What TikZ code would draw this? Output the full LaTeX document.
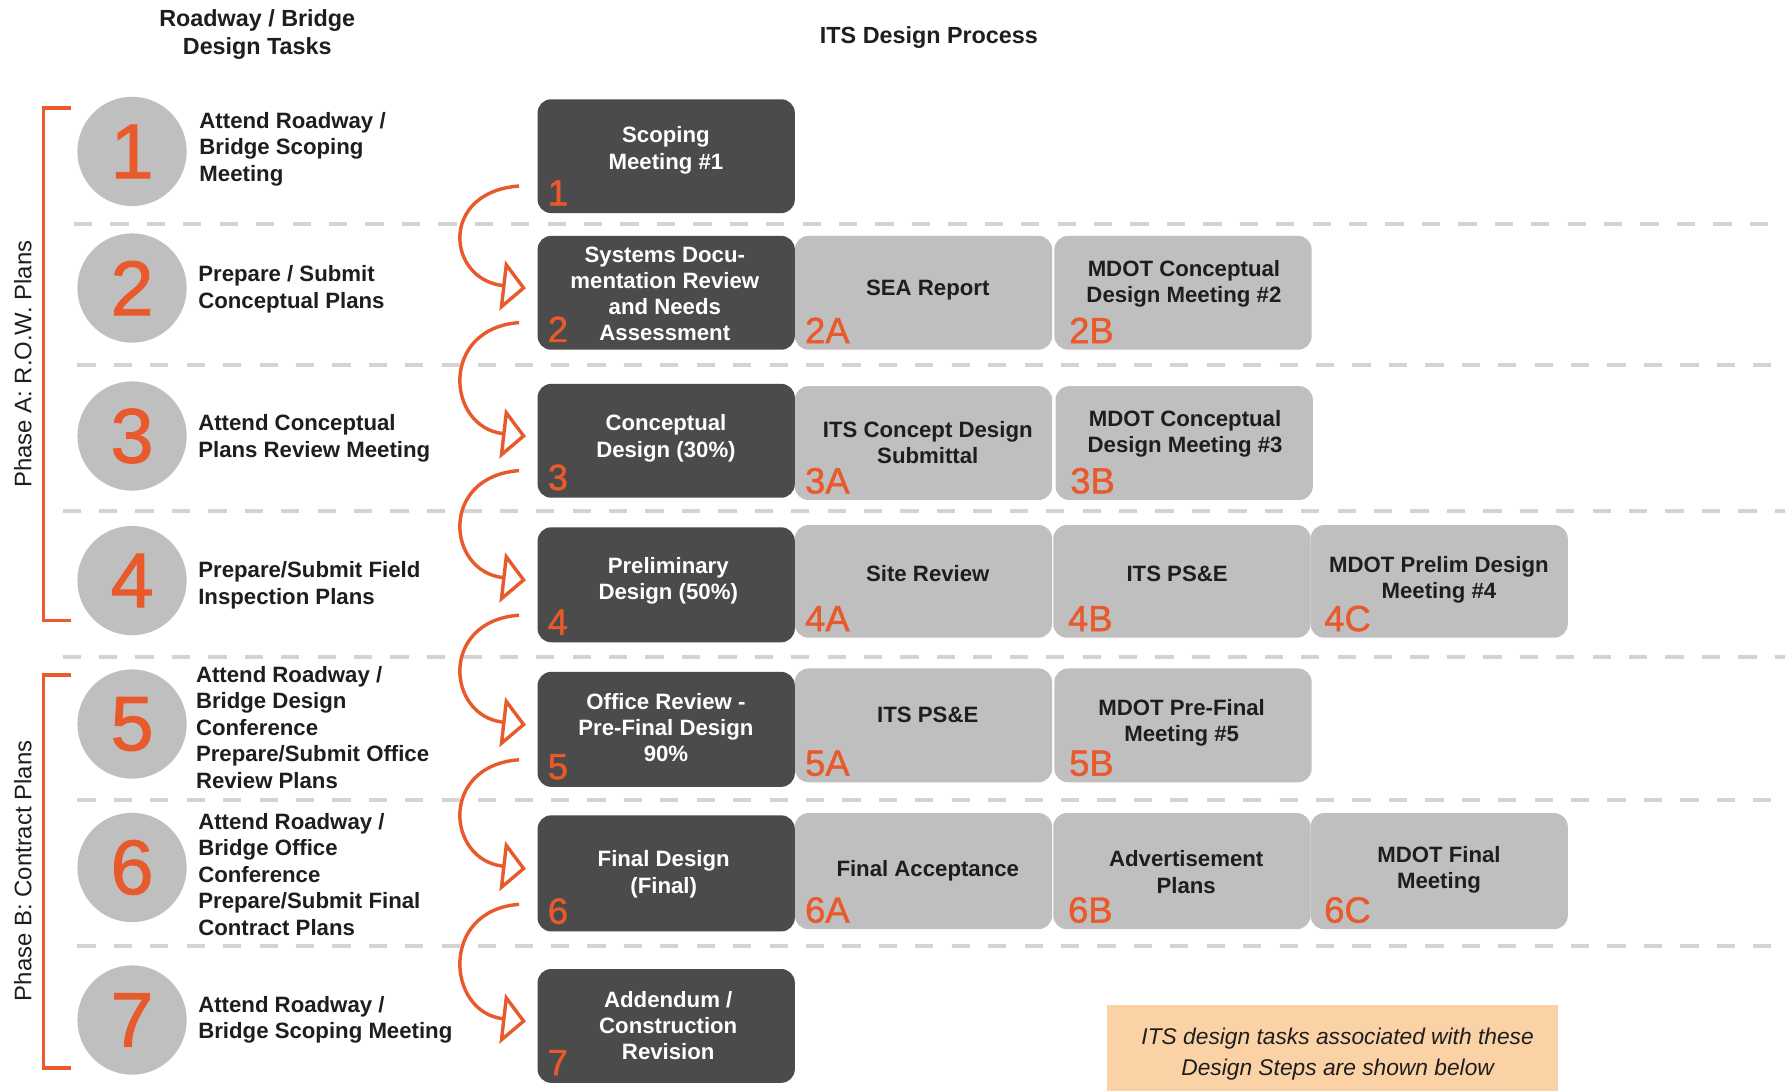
\documentclass[tikz,border=0pt]{standalone}
\usepackage{fontspec}
\setmainfont{Liberation Sans}
\newfontfamily\numfont[FakeBold=1.2]{Liberation Sans}
\usetikzlibrary{arrows.meta,calc}
\definecolor{org}{HTML}{E8592B}
\definecolor{dk}{HTML}{4B4B4B}
\definecolor{lt}{HTML}{BFBFBF}
\definecolor{dashc}{HTML}{D4D4D4}
\definecolor{peach}{HTML}{FBD1A6}
\definecolor{txt}{HTML}{1E1E1E}
\begin{document}
\begin{tikzpicture}[x=1pt,y=-1pt,
  dbox/.style={fill=dk, rounded corners=12pt, minimum width=226pt, minimum height=100pt, inner sep=0pt, anchor=north west},
  lbox/.style={fill=lt, rounded corners=12pt, minimum width=226pt, minimum height=100pt, inner sep=0pt, anchor=north west},
  dtext/.style={text=white, align=center, font=\fontsize{19.5}{23}\selectfont\bfseries, inner sep=0pt},
  ltext/.style={text=txt, align=center, font=\fontsize{19.5}{23}\selectfont\bfseries, inner sep=0pt},
  tasktext/.style={text=txt, align=left, anchor=west, font=\fontsize{19.5}{23.2}\selectfont\bfseries, inner sep=0pt},
  idx/.style={text=org, anchor=base west, font=\fontsize{32}{32}\numfont, inner sep=0pt},
  circ/.style={circle, fill=lt, minimum size=96pt, inner sep=0pt, text=org, font=\fontsize{68}{68}\numfont},
  dline/.style={draw=dashc, line width=3.5pt, dash pattern=on 16pt off 16pt},
  flow/.style={draw=org, line width=3pt, -{Triangle[open, length=21pt, width=44pt, line width=3pt]}},
  bracket/.style={draw=org, line width=3pt},
  phase/.style={rotate=90, text=txt, font=\fontsize{21}{24}\selectfont, inner sep=0pt}
]
\fill[white] (0,0) rectangle (1568,958);
\useasboundingbox (0,0) rectangle (1568,958);

% separators
\draw[dline] (65,197) -- (1568,197);
\draw[dline] (68,321) -- (1568,321);
\draw[dline] (55,449) -- (1568,449);
\draw[dline] (55,577) -- (1568,577);
\draw[dline] (68,703) -- (1568,703);
\draw[dline] (68,831) -- (1568,831);

% headers
\node[ltext, font=\fontsize{20.5}{25}\selectfont\bfseries] (h1) at (226,30.5) {Roadway / Bridge\\Design Tasks};
\node[ltext, font=\fontsize{20.5}{25}\selectfont\bfseries] (h2) at (816,33) {ITS Design Process};

% brackets and phase labels
\draw[bracket] (62,95) -- (38,95) -- (38,545) -- (62,545);
\draw[bracket] (62,593) -- (38,593) -- (38,938) -- (62,938);
\node[phase] (pa) at (20,320) {Phase A: R.O.W. Plans};
\node[phase] (pb) at (20,765) {Phase B: Contract Plans};

% circles
\node[circ] (c1) at (116,133) {1};
\node[circ] (c2) at (116,253) {2};
\node[circ] (c3) at (116,383) {3};
\node[circ] (c4) at (116,510) {4};
\node[circ] (c5) at (116,636) {5};
\node[circ] (c6) at (116,762) {6};
\node[circ] (c7) at (116,896) {7};

% task texts
\node[tasktext] (k1) at (175,131) {Attend Roadway /\\Bridge Scoping\\Meeting};
\node[tasktext] (k2) at (174,254) {Prepare / Submit\\Conceptual Plans};
\node[tasktext] (k3) at (174,385) {Attend Conceptual\\Plans Review Meeting};
\node[tasktext] (k4) at (174,514) {Prepare/Submit Field\\Inspection Plans};
\node[tasktext] (k5) at (172,639) {Attend Roadway /\\Bridge Design\\Conference\\Prepare/Submit Office\\Review Plans};
\node[tasktext] (k6) at (174,768) {Attend Roadway /\\Bridge Office\\Conference\\Prepare/Submit Final\\Contract Plans};
\node[tasktext] (k7) at (174,896) {Attend Roadway /\\Bridge Scoping Meeting};

% light boxes
\node[lbox] (b2a) at (698,207) {};
\node[lbox] (b2b) at (926,207) {};
\node[lbox] (b3a) at (698,339) {};
\node[lbox] (b3b) at (927,339) {};
\node[lbox, minimum height=99pt] (b4a) at (698,461) {};
\node[lbox, minimum height=99pt] (b4b) at (925,461) {};
\node[lbox, minimum height=99pt] (b4c) at (1151,461) {};
\node[lbox] (b5a) at (698,587) {};
\node[lbox] (b5b) at (926,587) {};
\node[lbox, minimum height=102pt] (b6a) at (698,714) {};
\node[lbox, minimum height=102pt] (b6b) at (925,714) {};
\node[lbox, minimum height=102pt] (b6c) at (1151,714) {};

% dark boxes
\node[dbox] (d1) at (472,87) {};
\node[dbox] (d2) at (472,207) {};
\node[dbox] (d3) at (472,337) {};
\node[dbox, minimum height=101pt] (d4) at (472,463) {};
\node[dbox, minimum height=101pt] (d5) at (472,590) {};
\node[dbox, minimum height=102pt] (d6) at (472,716) {};
\node[dbox] (d7) at (472,851) {};

% dark texts
\node[dtext] (t1) at (585,132) {Scoping\\Meeting \#1};
\node[dtext] (t2) at (584,258) {Systems Docu-\\mentation Review\\and Needs\\Assessment};
\node[dtext] (t3) at (585,385) {Conceptual\\Design (30\%)};
\node[dtext] (t4) at (587,510) {Preliminary\\Design (50\%)};
\node[dtext] (t5) at (585,639) {Office Review -\\Pre-Final Design\\90\%};
\node[dtext] (t6) at (583,768) {Final Design\\(Final)};
\node[dtext] (t7) at (587,901) {Addendum /\\Construction\\Revision};

% light texts
\node[ltext] (u2a) at (815,255) {SEA Report};
\node[ltext] (u2b) at (1040,249) {MDOT Conceptual\\Design Meeting \#2};
\node[ltext] (u3a) at (815,389) {ITS Concept Design\\Submittal};
\node[ltext] (u3b) at (1041,381) {MDOT Conceptual\\Design Meeting \#3};
\node[ltext] (u4a) at (815,504) {Site Review};
\node[ltext] (u4b) at (1034,504) {ITS PS\&E};
\node[ltext] (u4c) at (1264,509) {MDOT Prelim Design\\Meeting \#4};
\node[ltext] (u5a) at (815,628) {ITS PS\&E};
\node[ltext] (u5b) at (1038,635) {MDOT Pre-Final\\Meeting \#5};
\node[ltext] (u6a) at (815,765) {Final Acceptance};
\node[ltext] (u6b) at (1042,766) {Advertisement\\Plans};
\node[ltext] (u6c) at (1264,764) {MDOT Final\\Meeting};

% index labels
\node[idx] (i1) at ($(d1.south west)+(9,-7)$) {1};
\node[idx] (i2) at ($(d2.south west)+(9,-7)$) {2};
\node[idx] (i3) at ($(d3.south west)+(9,-7)$) {3};
\node[idx] (i4) at ($(d4.south west)+(9,-7)$) {4};
\node[idx] (i5) at ($(d5.south west)+(9,-7)$) {5};
\node[idx] (i6) at ($(d6.south west)+(9,-7)$) {6};
\node[idx] (i7) at ($(d7.south west)+(9,-7)$) {7};
\node[idx] (i2a) at ($(b2a.south west)+(9,-6)$) {2A};
\node[idx] (i2b) at ($(b2b.south west)+(13,-6)$) {2B};
\node[idx] (i3a) at ($(b3a.south west)+(9,-6)$) {3A};
\node[idx] (i3b) at ($(b3b.south west)+(13,-6)$) {3B};
\node[idx] (i4a) at ($(b4a.south west)+(9,-6)$) {4A};
\node[idx] (i4b) at ($(b4b.south west)+(13,-6)$) {4B};
\node[idx] (i4c) at ($(b4c.south west)+(12,-6)$) {4C};
\node[idx] (i5a) at ($(b5a.south west)+(9,-6)$) {5A};
\node[idx] (i5b) at ($(b5b.south west)+(13,-6)$) {5B};
\node[idx] (i6a) at ($(b6a.south west)+(9,-6)$) {6A};
\node[idx] (i6b) at ($(b6b.south west)+(13,-6)$) {6B};
\node[idx] (i6c) at ($(b6c.south west)+(12,-6)$) {6C};

% flow arrows
\foreach \a/\b in {d1/d2,d2/d3,d3/d4,d4/d5,d5/d6,d6/d7}{
  \coordinate (s-\a) at ($(\a.south west)+(-16,-24)$);
  \coordinate (e-\b) at ($(\b.west)+(-10,-4)$);
  \draw[flow] (s-\a) .. controls +(-70,5) and +(-70,-8) .. (e-\b);
}

% note
\node[fill=peach, minimum width=396pt, minimum height=75pt, inner sep=0pt, anchor=north west] (note) at (972,883) {};
\node[text=txt, align=center, font=\fontsize{20}{28}\selectfont\itshape, inner sep=0pt] (notet) at (1175,926) {ITS design tasks associated with these\\Design Steps are shown below};
\end{tikzpicture}
\end{document}
